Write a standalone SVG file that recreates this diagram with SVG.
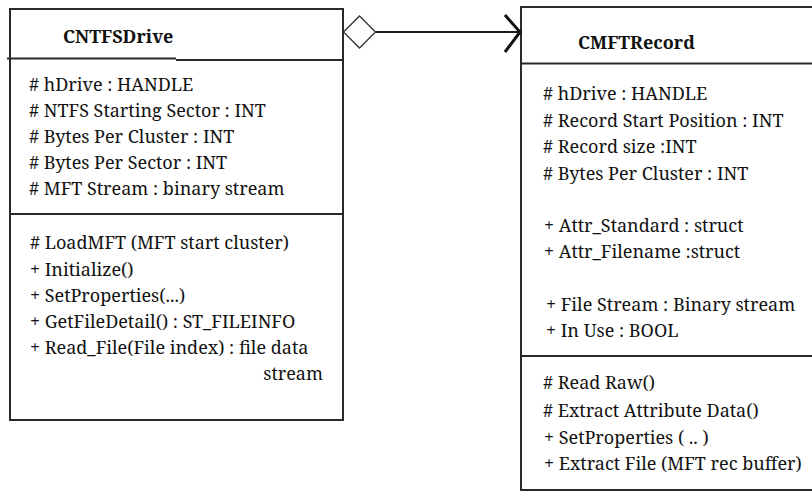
<svg xmlns="http://www.w3.org/2000/svg" width="812" height="492" viewBox="0 0 812 492">
  <style>
    .box { fill: #ffffff; stroke: #2a2a2a; stroke-width: 2; }
    .rule { stroke: #2a2a2a; stroke-width: 2; fill: none; }
    .t { font-size: 18px; fill: #111111; }
    .title { font-size: 18px; font-weight: bold; fill: #111111; }
    .conn { stroke: #1a1a1a; stroke-width: 2; fill: none; }
  </style>
  <rect width="812" height="492" fill="#ffffff"/>

  <!-- CNTFSDrive class -->
  <g id="cntfsdrive">
    <rect class="box" x="10" y="9" width="333" height="411"/>
    <path class="rule" d="M7 58.5 H176 M176 60 H343"/>
    <line class="rule" x1="10" y1="214" x2="343" y2="214"/>
    <text class="title" font-family="Noto Serif, Liberation Serif, serif" x="63" y="43">CNTFSDrive</text>
    <text class="t" font-family="Noto Serif, Liberation Serif, serif" x="29" y="91"># hDrive : HANDLE</text>
    <text class="t" font-family="Noto Serif, Liberation Serif, serif" x="29" y="117"># NTFS Starting Sector : INT</text>
    <text class="t" font-family="Noto Serif, Liberation Serif, serif" x="29" y="143"># Bytes Per Cluster : INT</text>
    <text class="t" font-family="Noto Serif, Liberation Serif, serif" x="29" y="169"># Bytes Per Sector : INT</text>
    <text class="t" font-family="Noto Serif, Liberation Serif, serif" x="29" y="195"># MFT Stream  : binary stream</text>
    <text class="t" font-family="Noto Serif, Liberation Serif, serif" x="30" y="249"># LoadMFT (MFT start cluster)</text>
    <text class="t" font-family="Noto Serif, Liberation Serif, serif" x="30" y="276">+ Initialize()</text>
    <text class="t" font-family="Noto Serif, Liberation Serif, serif" x="30" y="302">+ SetProperties(...)</text>
    <text class="t" font-family="Noto Serif, Liberation Serif, serif" x="30" y="328">+ GetFileDetail() : ST_FILEINFO</text>
    <text class="t" font-family="Noto Serif, Liberation Serif, serif" x="30" y="354">+ Read_File(File index) : file data</text>
    <text class="t" font-family="Noto Serif, Liberation Serif, serif" x="323" y="380" text-anchor="end">stream</text>
  </g>

  <!-- CMFTRecord class (runs off the right edge) -->
  <g id="cmftrecord">
    <rect class="box" x="521" y="7" width="320" height="483"/>
    <line class="rule" x1="521" y1="63.5" x2="812" y2="63.5"/>
    <line class="rule" x1="521" y1="356" x2="812" y2="356"/>
    <text class="title" font-family="Noto Serif, Liberation Serif, serif" x="578" y="49">CMFTRecord</text>
    <text class="t" font-family="Noto Serif, Liberation Serif, serif" x="543" y="100"># hDrive : HANDLE</text>
    <text class="t" font-family="Noto Serif, Liberation Serif, serif" x="543" y="127"># Record Start Position : INT</text>
    <text class="t" font-family="Noto Serif, Liberation Serif, serif" x="543" y="153"># Record size :INT</text>
    <text class="t" font-family="Noto Serif, Liberation Serif, serif" x="543" y="180"># Bytes Per Cluster : INT</text>
    <text class="t" font-family="Noto Serif, Liberation Serif, serif" x="544" y="232">+  Attr_Standard : struct</text>
    <text class="t" font-family="Noto Serif, Liberation Serif, serif" x="544" y="258">+  Attr_Filename :struct</text>
    <text class="t" font-family="Noto Serif, Liberation Serif, serif" x="546" y="311">+ File Stream  : Binary stream</text>
    <text class="t" font-family="Noto Serif, Liberation Serif, serif" x="546" y="337">+ In Use : BOOL</text>
    <text class="t" font-family="Noto Serif, Liberation Serif, serif" x="543" y="389"># Read Raw()</text>
    <text class="t" font-family="Noto Serif, Liberation Serif, serif" x="543" y="417"># Extract  Attribute Data()</text>
    <text class="t" font-family="Noto Serif, Liberation Serif, serif" x="544" y="444">+ SetProperties ( .. )</text>
    <text class="t" font-family="Noto Serif, Liberation Serif, serif" x="544" y="470">+ Extract File (MFT rec buffer)</text>
  </g>

  <!-- aggregation: diamond at CNTFSDrive, open arrow into CMFTRecord -->
  <g id="connectors">
    <polygon points="343.5,32 359.5,16 375.5,32 359.5,48" fill="#ffffff" stroke="#333333" stroke-width="1.3"/>
    <line class="conn" x1="375.5" y1="32" x2="519" y2="32"/>
    <polyline points="505,15 520,32 505,52" fill="none" stroke="#111111" stroke-width="3" stroke-linejoin="miter"/>
  </g>
</svg>
